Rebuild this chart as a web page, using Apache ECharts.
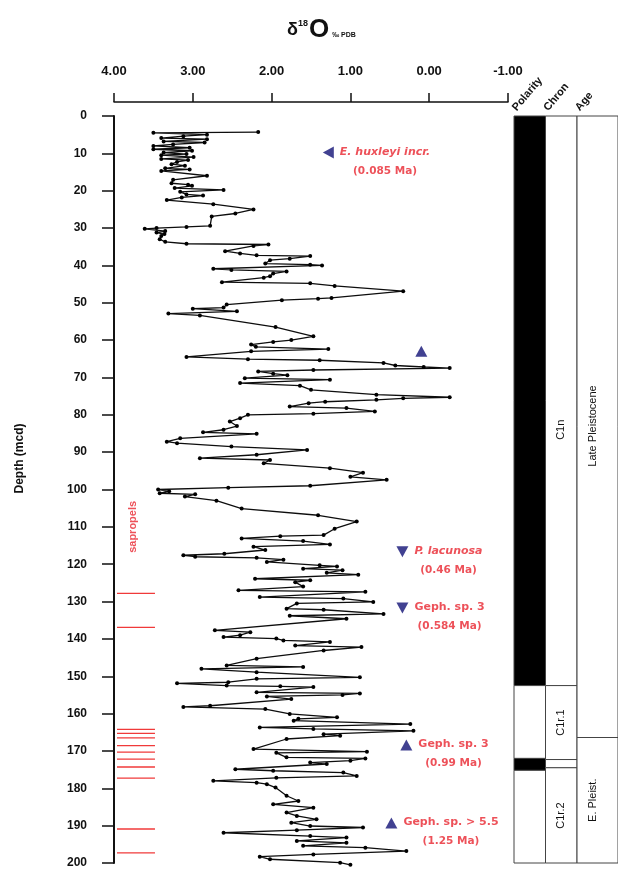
<!DOCTYPE html>
<html>
<head>
<meta charset="utf-8">
<script src="https://cdn.jsdelivr.net/npm/echarts@6/dist/echarts.min.js"></script>
<style>
  html, body { margin: 0; padding: 0; background: #fff; }
  #chart { width: 618px; height: 873px; }
</style>
</head>
<body>
<div id="chart"></div>
<script>
// delta 18O record vs depth (mcd)
const depthMcd = [
  4.3, 4.5, 5.0, 5.4, 5.9, 6.2, 6.8, 7.1, 7.6, 8.0,
  8.5, 8.9, 9.3, 9.8, 10.2, 10.5, 11.0, 11.5, 11.8, 12.3,
  12.9, 13.3, 14.0, 14.3, 14.7, 16.0, 17.1, 18.0, 18.4, 18.7,
  19.3, 19.8, 20.3, 21.0, 21.3, 21.8, 22.5, 23.6, 25.0, 26.1,
  26.9, 29.4, 29.7, 30.0, 30.2, 30.8, 31.2, 31.6, 32.1, 33.0,
  33.7, 34.2, 34.4, 34.8, 36.2, 36.8, 37.3, 37.5, 38.2, 38.6,
  39.5, 39.8, 40.0, 40.9, 41.2, 41.6, 42.2, 42.9, 43.3, 44.5,
  44.8, 45.5, 46.9, 48.7, 48.9, 49.3, 50.5, 51.3, 51.6, 52.3,
  52.9, 53.4, 56.5, 59.0, 60.0, 60.5, 61.2, 61.8, 62.4, 63.0,
  64.5, 65.1, 65.4, 66.1, 66.8, 67.2, 67.5, 68.0, 68.4, 69.0,
  69.4, 70.2, 70.6, 71.5, 72.2, 73.3, 74.6, 75.3, 75.6, 76.0,
  76.5, 76.9, 77.8, 78.2, 79.1, 79.7, 80.0, 80.9, 81.8, 83.0,
  84.0, 84.7, 85.1, 86.3, 87.2, 87.6, 88.5, 89.4, 90.7, 91.6,
  92.1, 93.0, 94.3, 95.5, 96.6, 97.4, 99.0, 99.5, 100.0, 100.5,
  101.0, 101.3, 101.9, 103.0, 105.1, 106.9, 108.6, 110.5, 112.2, 112.5,
  113.1, 113.8, 114.7, 115.3, 116.2, 117.2, 117.6, 118.0, 118.3, 118.8,
  119.4, 120.3, 120.6, 121.2, 121.6, 122.3, 122.8, 123.9, 124.3, 124.8,
  126.0, 127.0, 127.4, 128.8, 129.2, 130.1, 130.5, 131.9, 132.2, 133.3,
  133.8, 134.6, 137.7, 138.2, 139.0, 139.5, 139.9, 140.4, 140.8, 141.8,
  142.2, 143.1, 145.3, 147.1, 147.5, 148.0, 148.9, 150.3, 150.7, 151.6,
  151.9, 152.5, 152.7, 152.9, 154.3, 154.6, 155.0, 155.4, 156.1, 157.9,
  158.2, 158.8, 160.1, 161.0, 161.4, 161.9, 162.8, 163.7, 164.1, 164.6,
  165.5, 165.9, 166.8, 169.5, 170.2, 170.5, 171.7, 172.0, 172.6, 173.1,
  173.5, 174.9, 175.3, 175.8, 176.7, 177.2, 178.0, 178.5, 178.9, 179.8,
  182.0, 183.4, 184.3, 185.2, 186.5, 187.4, 188.3, 189.2, 190.1, 190.5,
  191.2, 191.9, 192.8, 193.2, 194.1, 194.6, 195.4, 195.9, 196.8, 197.7,
  198.3, 199.0, 199.9, 200.5
];
const d18O = [
  2.17, 3.50, 2.82, 3.12, 3.40, 2.82, 3.37, 2.85, 3.25, 3.50,
  3.04, 3.50, 3.01, 3.37, 3.08, 3.40, 2.99, 3.40, 3.06, 3.20,
  3.27, 3.10, 3.35, 3.04, 3.40, 2.82, 3.25, 3.27, 3.06, 3.01,
  3.23, 2.61, 3.16, 3.08, 2.87, 3.14, 3.33, 2.74, 2.23, 2.46,
  2.76, 2.78, 3.08, 3.46, 3.61, 3.35, 3.46, 3.36, 3.40, 3.42,
  3.35, 3.08, 2.04, 2.23, 2.59, 2.40, 2.19, 1.51, 1.77, 2.02,
  2.08, 1.51, 1.36, 2.74, 2.51, 1.81, 1.98, 2.02, 2.10, 2.63,
  1.51, 1.20, 0.33, 1.24, 1.41, 1.87, 2.57, 2.61, 3.00, 2.44,
  3.31, 2.91, 1.95, 1.47, 1.75, 1.98, 2.26, 2.20, 1.28, 2.26,
  3.08, 2.30, 1.39, 0.58, 0.43, 0.07, -0.26, 1.47, 2.17, 1.98,
  1.80, 2.34, 1.26, 2.40, 1.64, 1.50, 0.67, -0.26, 0.33, 0.67,
  1.32, 1.53, 1.77, 1.05, 0.69, 1.47, 2.30, 2.40, 2.53, 2.44,
  2.61, 2.87, 2.19, 3.16, 3.33, 3.20, 2.51, 1.55, 2.19, 2.91,
  2.02, 2.10, 1.26, 0.84, 1.00, 0.54, 1.51, 2.55, 3.44, 3.30,
  3.42, 2.97, 3.10, 2.70, 2.38, 1.41, 0.92, 1.20, 1.34, 1.89,
  2.38, 1.60, 1.26, 2.23, 2.08, 2.60, 3.12, 2.97, 2.19, 1.85,
  2.06, 1.39, 1.17, 1.60, 1.10, 1.30, 0.90, 2.21, 1.51, 1.70,
  1.60, 2.42, 0.81, 2.15, 1.09, 0.71, 1.68, 1.81, 1.34, 0.58,
  1.77, 1.05, 2.72, 2.27, 2.40, 2.61, 1.94, 1.85, 1.26, 1.70,
  0.86, 1.34, 2.19, 2.57, 1.60, 2.89, 2.19, 0.88, 2.19, 2.55,
  3.20, 2.57, 1.89, 1.47, 2.19, 0.88, 1.10, 2.06, 1.75, 2.78,
  3.12, 2.08, 1.77, 1.17, 1.66, 1.72, 0.24, 2.15, 1.47, 0.20,
  1.34, 1.13, 1.81, 2.23, 0.79, 1.94, 1.81, 0.81, 1.00, 1.51,
  1.30, 2.46, 1.98, 1.09, 0.92, 1.94, 2.74, 2.19, 2.06, 1.95,
  1.81, 1.66, 1.98, 1.47, 1.81, 1.68, 1.43, 1.75, 1.51, 0.84,
  1.68, 2.61, 1.51, 1.05, 1.68, 1.05, 1.60, 0.81, 0.29, 1.47,
  2.15, 2.02, 1.13, 1.00
];

// sapropel layers (depth, mcd)
const sapropels = [127.8, 136.9, 164.2, 165.3, 166.5, 168.6, 170.3, 172.2, 174.3, 177.3, 190.9, 197.3];

// biostratigraphic events
const eventNames = ['E. huxleyi incr.', '', 'P. lacunosa', 'Geph. sp. 3', 'Geph. sp. 3', 'Geph. sp. > 5.5'];
const eventAges = ['(0.085 Ma)', '', '(0.46 Ma)', '(0.584 Ma)', '(0.99 Ma)', '(1.25 Ma)'];
const eventValue = [1.28, 0.10, 0.34, 0.34, 0.29, 0.48];
const eventDepth = [9.8, 63.0, 116.7, 131.7, 168.4, 189.3];
const eventShape = ['left', 'up', 'down', 'down', 'up', 'up'];
const eventItalic = [true, false, true, false, false, false];

// stratigraphy columns
const columns = ['Polarity', 'Chron', 'Age'];
const polarityTop = [0, 152.5, 172.0, 175.2];
const polarityBase = [152.5, 172.0, 175.2, 200];
const polarityNormal = [1, 0, 1, 0];
const chronNames = ['C1n', 'C1r.1', '', 'C1r.2'];
const chronTop = [0, 152.5, 172.3, 174.5];
const chronBase = [152.5, 172.3, 174.5, 200];
const chronLabelDepth = [84, 162.4, null, 187.3];
const ageNames = ['Late Pleistocene', 'E. Pleist.'];
const ageTop = [0, 166.4];
const ageBase = [166.4, 200];
const ageLabelDepth = [83, 183.2];

const RED = '#e8262f';
const BLUE = '#121275';
const INK = '#111';
const FONT = '"Liberation Sans", Arial, sans-serif';
const WIDE = '"DejaVu Sans", sans-serif';
const PANEL_MAX = 3.3;

const chart = echarts.init(document.getElementById('chart'));

function blockSeries(col, tops, bases, fills, labels, labelDepth) {
  return {
    type: 'custom',
    xAxisIndex: 1,
    yAxisIndex: 1,
    silent: true,
    data: tops.map((t, i) => [col, t, bases[i]]),
    renderItem(params, api) {
      const i = params.dataIndex;
      const right = col === columns.length - 1 ? PANEL_MAX : col + 1;
      const a = api.coord([col, api.value(1)]);
      const b = api.coord([right, api.value(2)]);
      const children = [{
        type: 'rect',
        shape: { x: a[0], y: a[1], width: b[0] - a[0], height: b[1] - a[1] },
        style: { fill: fills && fills[i] ? '#000' : '#fff', stroke: '#444', lineWidth: 1 }
      }];
      if (labels && labels[i]) {
        const c = api.coord([col + 0.5, labelDepth[i]]);
        children.push({
          type: 'text',
          x: c[0],
          y: c[1],
          rotation: Math.PI / 2,
          style: { text: labels[i], fill: INK, fontSize: 11, fontFamily: FONT, align: 'center', verticalAlign: 'middle' }
        });
      }
      return { type: 'group', children };
    }
  };
}

const rot = { up: 0, down: 180, left: 90 };

chart.setOption({
  backgroundColor: '#fff',
  animation: false,
  title: {
    text: '{d|δ}{s|18}{o|O}{p|‰ PDB}',
    left: 282,
    top: 12,
    textStyle: {
      rich: {
        d: { fontSize: 18, fontFamily: FONT, color: INK },
        s: { fontSize: 9, fontWeight: 'bold', fontFamily: FONT, color: INK, padding: [0, 1, 12, 0] },
        o: { fontSize: 26, fontFamily: FONT, color: INK },
        p: { fontSize: 7, fontWeight: 'bold', fontFamily: FONT, color: INK, padding: [10, 0, 0, 3] }
      }
    }
  },
  grid: [
    { left: 114, top: 116, width: 394, height: 747 },
    { left: 514, top: 116, width: 104, height: 747 }
  ],
  xAxis: [{
    type: 'value',
    gridIndex: 0,
    position: 'top',
    offset: 14,
    inverse: true,
    min: -1,
    max: 4,
    interval: 1,
    axisLine: { onZero: false, lineStyle: { color: INK, width: 1.5 } },
    axisTick: { length: 9, lineStyle: { color: INK, width: 1.5 } },
    axisLabel: { color: INK, fontSize: 13, fontWeight: 'bold', fontFamily: FONT, margin: 24, formatter: v => v.toFixed(2) },
    splitLine: { show: false }
  }, {
    type: 'value', gridIndex: 1, min: 0, max: PANEL_MAX, show: false
  }],
  yAxis: [{
    type: 'value',
    gridIndex: 0,
    inverse: true,
    min: 0,
    max: 200,
    interval: 10,
    name: 'Depth (mcd)',
    nameLocation: 'middle',
    nameGap: 88,
    nameTextStyle: { color: INK, fontSize: 12, fontWeight: 'bold', fontFamily: FONT, padding: [0, 0, 0, 62] },
    axisLine: { onZero: false, lineStyle: { color: INK, width: 2 } },
    axisTick: { length: 12, lineStyle: { color: INK, width: 1.5 } },
    axisLabel: { color: INK, fontSize: 12, fontWeight: 'bold', fontFamily: FONT, margin: 27 },
    splitLine: { show: false }
  }, {
    type: 'value', gridIndex: 1, inverse: true, min: 0, max: 200, show: false
  }],
  series: [
    {
      type: 'line',
      clip: false,
      data: depthMcd.map((d, i) => [d18O[i], d]),
      symbol: 'circle',
      symbolSize: 4,
      lineStyle: { color: '#0d0d0d', width: 1.3 },
      itemStyle: { color: '#000' },
      z: 3
    },
    {
      type: 'custom',
      silent: true,
      data: sapropels.map(d => [d]),
      renderItem(params, api) {
        const a = api.coord([4, api.value(0)]);
        const b = api.coord([3.48, api.value(0)]);
        return { type: 'line', shape: { x1: a[0] + 3, y1: a[1], x2: b[0], y2: b[1] }, style: { stroke: '#f03a3a', lineWidth: 1.3 } };
      }
    },
    {
      type: 'scatter',
      silent: true,
      symbol: 'circle',
      symbolSize: 1,
      itemStyle: { color: 'rgba(0,0,0,0)' },
      data: [[3.76, 110]],
      label: {
        show: true, position: 'inside', rotate: 90, formatter: 'sapropels',
        color: RED, fontSize: 11, fontWeight: 'bold', fontFamily: FONT
      }
    },
    {
      type: 'scatter',
      silent: true,
      symbol: 'triangle',
      symbolSize: [12, 11],
      itemStyle: { color: BLUE },
      data: eventValue.map((v, i) => ({
        value: [v, eventDepth[i]],
        symbolRotate: rot[eventShape[i]],
        label: {
          show: !!eventNames[i],
          formatter: `{${eventItalic[i] ? 'i' : 'n'}|${eventNames[i]}}\n{a|${eventAges[i]}}`
        }
      })),
      label: {
        position: 'right',
        distance: 6,
        offset: [0, 9],
        rich: {
          i: { color: RED, fontSize: 11, fontWeight: 'bold', fontStyle: 'italic', fontFamily: WIDE, lineHeight: 19, align: 'center' },
          n: { color: RED, fontSize: 11, fontWeight: 'bold', fontFamily: WIDE, lineHeight: 19, align: 'center' },
          a: { color: RED, fontSize: 10.5, fontWeight: 'bold', fontFamily: WIDE, lineHeight: 19, align: 'center' }
        }
      },
      z: 4
    },
    blockSeries(0, polarityTop, polarityBase, polarityNormal, null, null),
    blockSeries(1, chronTop, chronBase, null, chronNames, chronLabelDepth),
    blockSeries(2, ageTop, ageBase, null, ageNames, ageLabelDepth),
    {
      type: 'custom',
      xAxisIndex: 1,
      yAxisIndex: 1,
      silent: true,
      data: columns.map((c, i) => [i]),
      renderItem(params, api) {
        const p = api.coord([api.value(0) + 0.15, 0]);
        return {
          type: 'text',
          x: p[0],
          y: p[1] - 3,
          rotation: 50 * Math.PI / 180,
          style: { text: columns[params.dataIndex], fill: INK, fontSize: 11, fontWeight: 'bold', fontFamily: FONT, align: 'left', verticalAlign: 'bottom' }
        };
      }
    }
  ]
});
</script>
</body>
</html>
